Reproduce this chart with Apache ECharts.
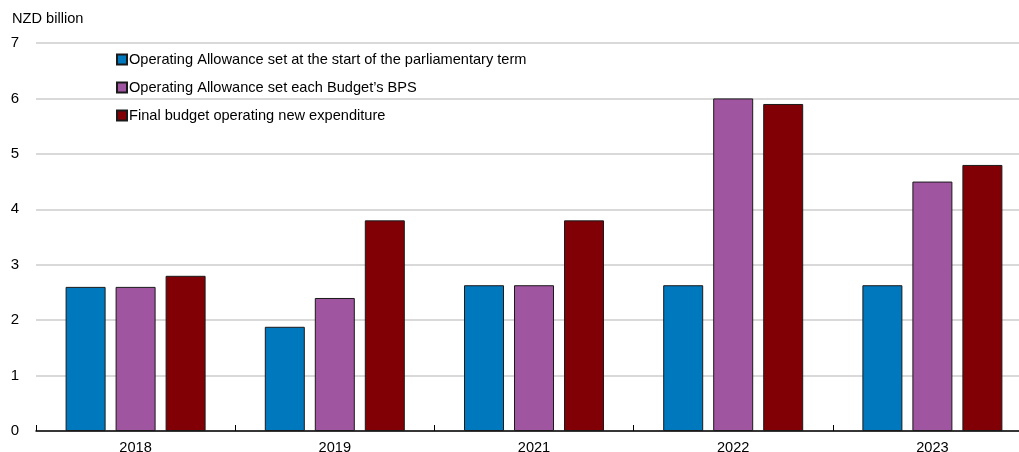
<!DOCTYPE html>
<html>
<head>
<meta charset="utf-8">
<script src="https://cdn.jsdelivr.net/npm/echarts@6/dist/echarts.min.js"></script>
<style>
  html, body { margin: 0; padding: 0; background: #fff; }
  #chart { width: 1019px; height: 452px; }
</style>
</head>
<body>
<div id="chart"></div>
<script>
// Budget years on the category axis
const years = ['2018', '2019', '2021', '2022', '2023'];

// NZD billion
const allowanceStartOfTerm = [2.6, 1.88, 2.63, 2.63, 2.63];
const allowanceEachBPS = [2.6, 2.4, 2.63, 6.0, 4.5];
const finalNewExpenditure = [2.8, 3.8, 3.8, 5.9, 4.8];

const seriesNames = [
  'Operating Allowance set at the start of the parliamentary term',
  'Operating Allowance set each Budget\u2019s BPS',
  'Final budget operating new expenditure'
];
const colors = ['#0078be', '#a055a0', '#800006'];

const yTicks = { min: 0, max: 7, interval: 1 };

const font = '"Liberation Sans", Arial, sans-serif';

const chart = echarts.init(document.getElementById('chart'));

function barSeries(name, data, color) {
  return {
    name: name,
    type: 'bar',
    data: data,
    barWidth: 40,
    barGap: '25%',
    itemStyle: { color: color, borderColor: '#1a1a1a', borderWidth: 1 },
    animation: false
  };
}

chart.setOption({
  animation: false,
  title: {
    text: 'NZD billion',
    left: 7,
    top: 6,
    textStyle: { fontFamily: font, fontSize: 14.6, fontWeight: 'normal', color: '#000' }
  },
  legend: {
    orient: 'vertical',
    left: 111,
    top: 47,
    itemWidth: 10,
    itemHeight: 10,
    itemGap: 13,
    icon: 'rect',
    data: seriesNames,
    textStyle: { fontFamily: font, fontSize: 14.6, color: '#000', padding: [0, 0, 0, -3] }
  },
  // the last category runs a little past the right edge of the canvas
  grid: { left: 36, width: 996, top: 43, bottom: 21, outerBoundsMode: 'none', containLabel: false },
  xAxis: {
    type: 'category',
    data: years,
    axisLine: { lineStyle: { color: '#000', width: 1.5 } },
    axisTick: { show: true, inside: true, length: 6, lineStyle: { color: '#000' } },
    axisLabel: { fontFamily: font, fontSize: 14.6, color: '#000', margin: 9 }
  },
  yAxis: {
    type: 'value',
    min: yTicks.min,
    max: yTicks.max,
    interval: yTicks.interval,
    axisLine: { show: false },
    axisTick: { show: false },
    splitLine: { lineStyle: { color: '#d9d9d9', width: 2 } },
    axisLabel: { fontFamily: font, fontSize: 15, color: '#000', margin: 17 }
  },
  series: [
    barSeries(seriesNames[0], allowanceStartOfTerm, colors[0]),
    barSeries(seriesNames[1], allowanceEachBPS, colors[1]),
    barSeries(seriesNames[2], finalNewExpenditure, colors[2])
  ]
});
</script>
</body>
</html>
